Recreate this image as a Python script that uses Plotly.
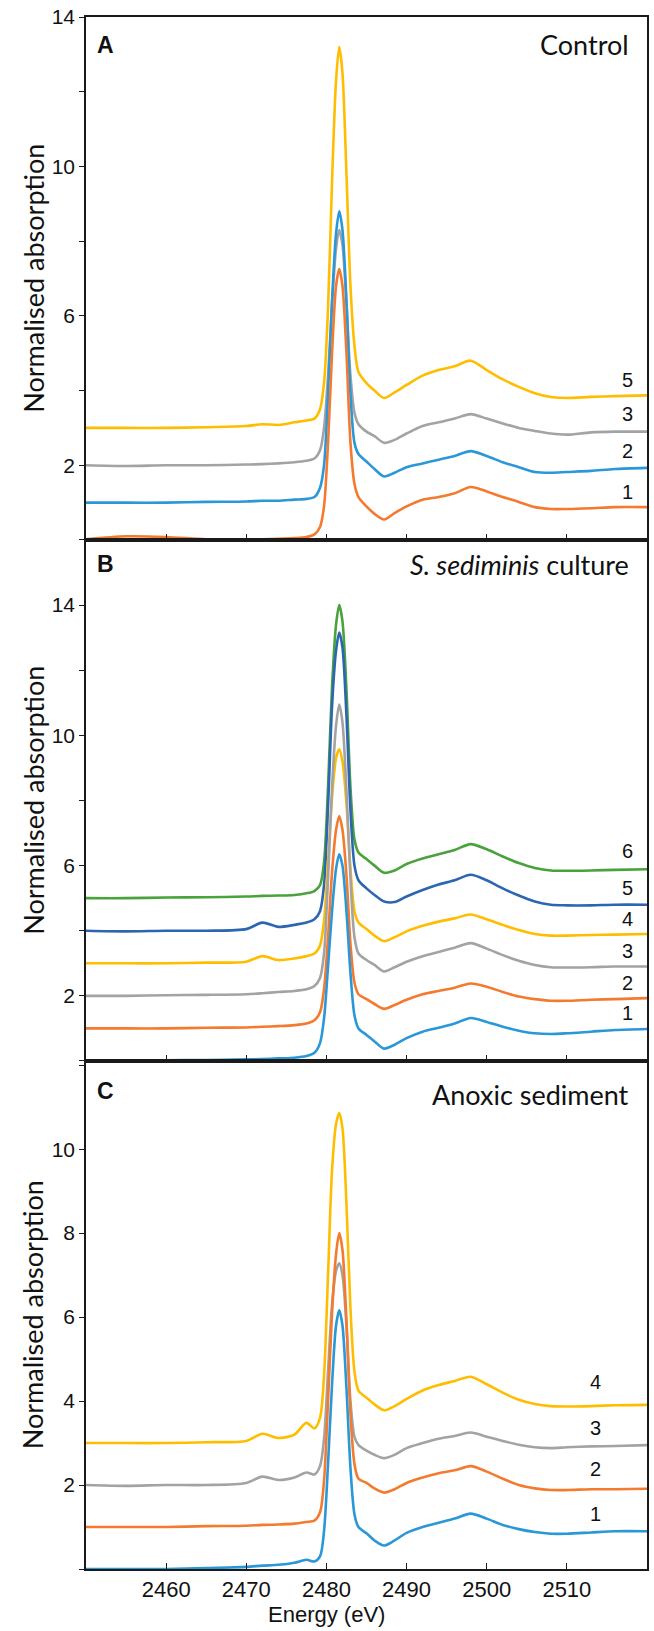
import plotly.graph_objects as go

# ---------------- data ----------------
energy = [2450, 2455, 2460, 2465, 2470, 2472, 2474, 2476, 2477.5, 2478.5,
          2479.2, 2479.7, 2480.2, 2480.7, 2481.2, 2481.6, 2482.0, 2482.5, 2483.0, 2483.5,
          2484.0, 2485.0, 2486.0, 2487.2, 2488.5, 2490, 2492, 2494, 2496, 2498,
          2500, 2502, 2504, 2506, 2508, 2510, 2513, 2516, 2520]

# Panel A - Control
a1 = [0.02, 0.10, 0.08, 0.02, 0.00, 0.02, 0.03, 0.05, 0.08, 0.15,
      0.35, 0.90, 2.60, 5.00, 6.80, 7.25, 6.80, 5.00, 2.60, 1.50,
      1.15, 0.90, 0.70, 0.55, 0.72, 0.90, 1.08, 1.15, 1.25, 1.42,
      1.30, 1.15, 1.02, 0.88, 0.83, 0.83, 0.85, 0.88, 0.88]
a2 = [1.00, 1.00, 1.00, 1.02, 1.03, 1.05, 1.05, 1.08, 1.10, 1.15,
      1.40, 2.00, 3.90, 6.40, 8.20, 8.80, 8.30, 6.40, 3.90, 2.60,
      2.30, 2.10, 1.90, 1.70, 1.80, 1.95, 2.05, 2.15, 2.25, 2.38,
      2.25, 2.08, 1.95, 1.82, 1.80, 1.82, 1.85, 1.90, 1.93]
a3 = [2.00, 1.98, 2.00, 2.00, 2.02, 2.03, 2.05, 2.08, 2.12, 2.18,
      2.40, 3.00, 4.40, 6.30, 7.80, 8.30, 7.90, 6.30, 4.40, 3.40,
      3.10, 2.90, 2.78, 2.60, 2.68, 2.85, 3.05, 3.15, 3.25, 3.37,
      3.25, 3.12, 3.00, 2.92, 2.85, 2.82, 2.88, 2.90, 2.90]
a5 = [3.00, 3.00, 3.00, 3.02, 3.05, 3.10, 3.08, 3.15, 3.20, 3.25,
      3.50, 4.20, 6.20, 9.60, 12.30, 13.20, 12.50, 9.80, 6.80, 5.20,
      4.50, 4.20, 4.00, 3.80, 3.95, 4.15, 4.40, 4.55, 4.65, 4.80,
      4.55, 4.30, 4.10, 3.93, 3.83, 3.80, 3.83, 3.85, 3.87]

# Panel B - S. sediminis culture
b1 = [0.00, 0.00, 0.02, 0.03, 0.05, 0.06, 0.08, 0.10, 0.15, 0.25,
      0.55, 1.30, 2.90, 4.60, 5.90, 6.35, 6.00, 4.60, 2.70, 1.40,
      1.00, 0.80, 0.60, 0.38, 0.50, 0.70, 0.90, 1.02, 1.15, 1.32,
      1.20, 1.05, 0.93, 0.85, 0.83, 0.85, 0.90, 0.95, 0.98]
b2 = [1.00, 1.00, 1.00, 1.02, 1.03, 1.05, 1.07, 1.10, 1.15, 1.25,
      1.50, 2.20, 3.80, 5.80, 7.10, 7.52, 7.10, 5.70, 3.60, 2.40,
      2.05, 1.90, 1.75, 1.60, 1.72, 1.88, 2.05, 2.15, 2.25, 2.38,
      2.28, 2.12, 1.98, 1.90, 1.85, 1.85, 1.88, 1.90, 1.93]
b3 = [2.00, 2.00, 2.02, 2.03, 2.05, 2.08, 2.12, 2.15, 2.20, 2.30,
      2.55, 3.30, 5.60, 8.40, 10.30, 10.95, 10.40, 8.30, 5.60, 3.80,
      3.30, 3.10, 2.95, 2.75, 2.88, 3.05, 3.22, 3.35, 3.48, 3.62,
      3.45, 3.25, 3.08, 2.95, 2.88, 2.87, 2.88, 2.90, 2.90]
b4 = [3.00, 3.00, 3.00, 3.02, 3.05, 3.22, 3.10, 3.15, 3.22, 3.30,
      3.55, 4.30, 6.10, 8.10, 9.30, 9.57, 9.20, 7.90, 5.90, 4.60,
      4.25, 4.05, 3.85, 3.68, 3.80, 3.98, 4.15, 4.28, 4.38, 4.50,
      4.35, 4.18, 4.02, 3.90, 3.85, 3.85, 3.87, 3.88, 3.90]
b5 = [4.00, 3.98, 4.00, 4.00, 4.05, 4.25, 4.12, 4.18, 4.25, 4.35,
      4.60, 5.40, 7.80, 10.90, 12.60, 13.16, 12.70, 10.60, 7.70, 6.00,
      5.55, 5.30, 5.10, 4.90, 4.88, 5.05, 5.25, 5.42, 5.55, 5.72,
      5.55, 5.30, 5.08, 4.90, 4.80, 4.78, 4.78, 4.80, 4.80]
b6 = [5.00, 5.00, 5.02, 5.03, 5.05, 5.07, 5.08, 5.10, 5.15, 5.22,
      5.40, 6.10, 8.40, 11.50, 13.40, 14.00, 13.50, 11.40, 8.40, 6.80,
      6.40, 6.20, 6.00, 5.78, 5.85, 6.05, 6.22, 6.35, 6.48, 6.66,
      6.50, 6.28, 6.08, 5.93, 5.85, 5.84, 5.85, 5.87, 5.89]

# Panel C - Anoxic sediment
c1 = [0.00, 0.00, 0.00, 0.02, 0.05, 0.08, 0.10, 0.15, 0.22, 0.18,
      0.30, 0.90, 2.50, 4.40, 5.80, 6.16, 5.80, 4.30, 2.40, 1.30,
      1.00, 0.85, 0.68, 0.56, 0.68, 0.86, 1.00, 1.10, 1.20, 1.32,
      1.20, 1.05, 0.95, 0.88, 0.84, 0.84, 0.87, 0.90, 0.90]
c2 = [1.00, 1.00, 1.00, 1.02, 1.03, 1.05, 1.06, 1.08, 1.12, 1.15,
      1.35, 2.10, 4.00, 6.10, 7.50, 8.00, 7.60, 5.90, 3.70, 2.50,
      2.15, 2.05, 1.92, 1.82, 1.90, 2.05, 2.18, 2.28, 2.35, 2.45,
      2.32, 2.15, 2.00, 1.92, 1.88, 1.88, 1.90, 1.90, 1.91]
c3 = [2.00, 1.98, 2.00, 2.00, 2.05, 2.20, 2.12, 2.18, 2.30, 2.25,
      2.45, 3.10, 4.70, 6.30, 7.10, 7.28, 7.00, 5.80, 4.00, 3.15,
      2.95, 2.82, 2.72, 2.64, 2.72, 2.88, 3.00, 3.10, 3.17, 3.25,
      3.15, 3.05, 2.96, 2.90, 2.88, 2.90, 2.92, 2.93, 2.95]
c4 = [3.00, 3.00, 3.00, 3.02, 3.05, 3.22, 3.12, 3.20, 3.48, 3.35,
      3.60, 4.60, 7.00, 9.50, 10.60, 10.86, 10.50, 8.70, 6.20, 4.70,
      4.25, 4.08, 3.92, 3.78, 3.88, 4.05, 4.25, 4.38, 4.48, 4.58,
      4.40, 4.20, 4.03, 3.93, 3.88, 3.87, 3.88, 3.90, 3.91]

# curve number labels (text, y position)
a_labels = ["5", "3", "2", "1"]
a_label_y = [4.29, 3.36, 2.39, 1.29]
b_labels = ["6", "5", "4", "3", "2", "1"]
b_label_y = [6.44, 5.30, 4.36, 3.37, 2.39, 1.47]
c_labels = ["4", "3", "2", "1"]
c_label_y = [4.45, 3.37, 2.38, 1.30]

x_ticks = [2460, 2470, 2480, 2490, 2500, 2510]
a_ticks = [0, 2, 4, 6, 8, 10, 12, 14]
a_ticktext = ["", "2", "", "6", "", "10", "", "14"]
b_ticks = [0, 2, 4, 6, 8, 10, 12, 14]
b_ticktext = ["", "2", "", "6", "", "10", "", "14"]
c_ticks = [0, 2, 4, 6, 8, 10, 12]
c_ticktext = ["", "2", "4", "6", "8", "10", ""]

# ---------------- style ----------------
ORANGE = "#F37A2E"
LBLUE = "#2A97D8"
GRAY = "#A3A3A3"
YELLOW = "#FFBD00"
DBLUE = "#2C66B3"
GREEN = "#49A23B"
LW = 2.6

fig = go.Figure()

def add(y, color, ax):
    fig.add_trace(go.Scatter(x=energy, y=y, mode="lines",
                             line=dict(color=color, width=LW, shape="spline", smoothing=0.8),
                             xaxis="x" + ax, yaxis="y" + ax, showlegend=False,
                             hoverinfo="skip"))

for y, c in [(a5, YELLOW), (a3, GRAY), (a2, LBLUE), (a1, ORANGE)]:
    add(y, c, "")
for y, c in [(b6, GREEN), (b5, DBLUE), (b4, YELLOW), (b3, GRAY), (b2, ORANGE), (b1, LBLUE)]:
    add(y, c, "2")
for y, c in [(c4, YELLOW), (c3, GRAY), (c2, ORANGE), (c1, LBLUE)]:
    add(y, c, "3")

YTICKFONT = dict(family="Liberation Sans, Arial, sans-serif", size=21, color="#111")
XTICKFONT = dict(family="Liberation Sans, Arial, sans-serif", size=22, color="#111")
LINEC = "#1a1a1a"

def xax(anchor, show):
    return dict(range=[2450, 2520], anchor=anchor, domain=[0, 1],
                tickvals=x_ticks, showticklabels=show, ticks="inside", ticklen=6,
                tickwidth=1.3, tickcolor=LINEC, showline=True, linecolor=LINEC,
                linewidth=1.6, mirror=True, showgrid=False, zeroline=False,
                tickfont=XTICKFONT)

def yax(domain, rng, tv, tt, anchor):
    return dict(domain=domain, range=rng, anchor=anchor, tickvals=tv, ticktext=tt,
                ticks="outside", ticklen=5, tickwidth=1.3, tickcolor=LINEC,
                showline=True, linecolor=LINEC, linewidth=1.6, mirror=True,
                showgrid=False, zeroline=False, tickfont=YTICKFONT)

dA = [0.66302, 1.0]
dB = [0.32733, 0.66302]
dC = [0.0, 0.32733]

fig.update_layout(
    width=654, height=1631,
    margin=dict(l=86, r=5, t=14, b=62),
    paper_bgcolor="white", plot_bgcolor="white",
    xaxis=xax("y", False),
    xaxis2=xax("y2", False),
    xaxis3=xax("y3", True),
    yaxis=yax(dA, [0, 14], a_ticks, a_ticktext, "x"),
    yaxis2=yax(dB, [0, 16], b_ticks, b_ticktext, "x2"),
    yaxis3=yax(dC, [0, 12.1], c_ticks, c_ticktext, "x3"),
)
fig.layout.xaxis2.matches = "x"
fig.layout.xaxis3.matches = "x"

ann = []
NUMFONT = dict(family="Liberation Sans, Arial, sans-serif", size=20, color="#111")
for t, yv in zip(a_labels, a_label_y):
    ann.append(dict(x=2517.6, y=yv, xref="x", yref="y", text=t, showarrow=False, font=NUMFONT))
for t, yv in zip(b_labels, b_label_y):
    ann.append(dict(x=2517.6, y=yv, xref="x2", yref="y2", text=t, showarrow=False, font=NUMFONT))
for t, yv in zip(c_labels, c_label_y):
    ann.append(dict(x=2513.6, y=yv, xref="x3", yref="y3", text=t, showarrow=False, font=NUMFONT))

TITLEFONT = dict(family="Lato, Open Sans, sans-serif", size=27, color="#111")
ann += [
    dict(x=0.9716, y=0.9826, xref="paper", yref="paper", xanchor="right", yanchor="middle",
         text="Control", showarrow=False, font=TITLEFONT),
    dict(x=0.9716, y=0.647, xref="paper", yref="paper", xanchor="right", yanchor="middle",
         text="<i>S. sediminis</i> culture", showarrow=False, font=TITLEFONT),
    dict(x=0.9716, y=0.306, xref="paper", yref="paper", xanchor="right", yanchor="middle",
         text="Anoxic sediment", showarrow=False, font=TITLEFONT),
]
LETTERFONT = dict(family="Liberation Sans, Arial, sans-serif", size=23, color="#111")
for letter, yp in [("A", 0.982), ("B", 0.6476), ("C", 0.308)]:
    ann.append(dict(x=0.034, y=yp, xref="paper", yref="paper", xanchor="center", yanchor="middle",
                    text="<b>" + letter + "</b>", showarrow=False, font=LETTERFONT))

YTFONT = dict(family="Lato, Open Sans, sans-serif", size=27, color="#111")
for dom in (dA, dB, dC):
    ann.append(dict(x=-0.094, y=(dom[0] + dom[1]) / 2, xref="paper", yref="paper",
                    xanchor="center", yanchor="middle", textangle=-90,
                    text="Normalised absorption", showarrow=False, font=YTFONT))

ann.append(dict(x=2480, y=-0.029, xref="x3", yref="paper", xanchor="center", yanchor="middle",
                text="Energy (eV)", showarrow=False,
                font=dict(family="Liberation Sans, Arial, sans-serif", size=22, color="#111")))

fig.update_layout(annotations=ann)
fig.write_html("out.html")
